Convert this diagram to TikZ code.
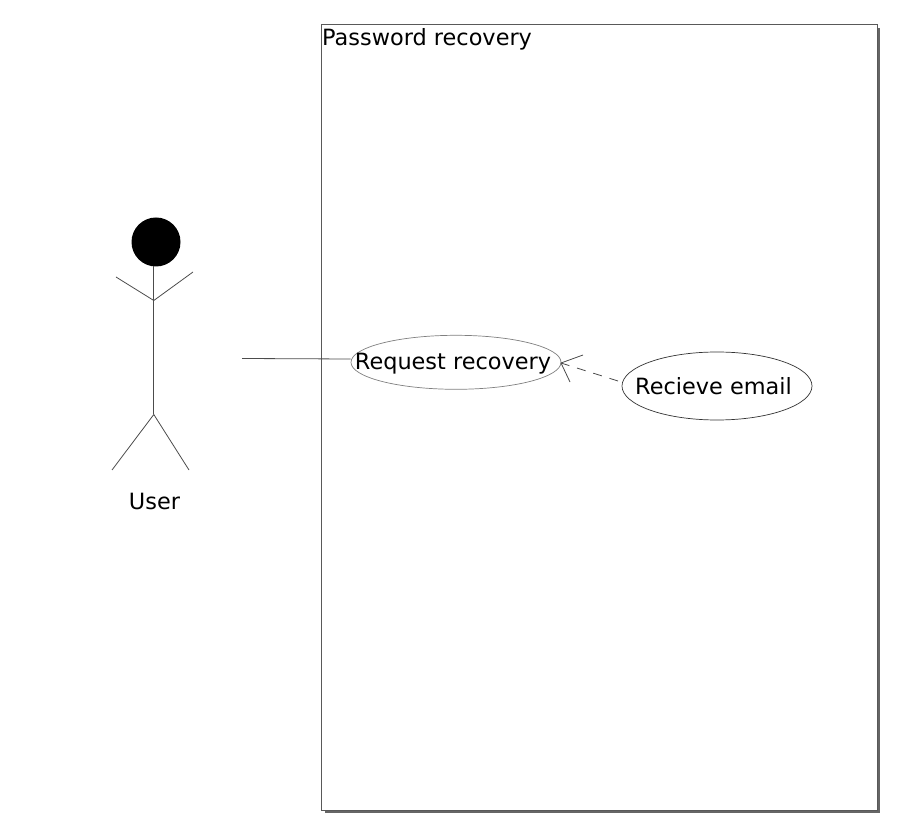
\documentclass[tikz,border=0pt]{standalone}
\usepackage{fontspec}
\setmainfont{DejaVu Sans}
\usetikzlibrary{shapes.geometric}
\tikzset{usecase/.style = {draw, fill=white, ellipse, inner sep=0pt},
         label/.style = {inner sep=0pt, font=\fontsize{22.4}{26}\selectfont},
         thin line/.style = {draw, line width=0.8pt, color=black!70}}

\begin{document}
\begin{tikzpicture}[x=1pt,y=-1pt]
        \useasboundingbox(0,0)rectangle(898,834);

        \node[fill=black!60,minimum width=555.5pt,minimum height=785.5pt,inner sep=0pt,outer sep=0pt,anchor=north west](shadow)at(324.5,27.8){};
        \node[draw=black!65,fill=white,line width=0.9pt,minimum width=555.5pt,minimum height=785.5pt,inner sep=0pt,outer sep=0pt,anchor=north west](system)at(321.5,24.8){};
        \node[label,anchor=north west](title)at(322,28.5){Password recovery};

        \node[circle,fill=black,minimum size=49pt,inner sep=0pt](head)at(156,242){};
        \coordinate(neck)at(153.8,266);
        \coordinate(chest)at(153.8,300.5);
        \coordinate(hip)at(153.8,414.5);
        \coordinate(handl)at(116,277);
        \coordinate(handr)at(193,272);
        \coordinate(footl)at(112,470);
        \coordinate(footr)at(189,470);
        \draw[thin line](neck)--(hip);
        \draw[thin line](handl)--(chest)--(handr);
        \draw[thin line](footl)--(hip)--(footr);
        \node[label](user)at(154.5,501){User};

        \node[usecase,draw=black!50,line width=0.7pt,minimum width=210pt,minimum height=54pt](request)at(456,362.3){};
        \node[label](requesttext)at(453,364){Request recovery};
        \node[usecase,draw=black!80,line width=0.7pt,minimum width=190pt,minimum height=68pt](receive)at(717,386){};
        \node[label](receivetext)at(713.5,386.5){Recieve email};

        \coordinate(actorend)at(242,358.5);
        \draw[thin line](actorend)--(request.west|-0,359);

        \coordinate(tip)at(561,363);
        \coordinate(barbu)at(583,355);
        \coordinate(barbd)at(570,382);
        \coordinate(dashend)at(618,381);
        \draw[thin line,dash pattern=on 9pt off 8pt](dashend)--(tip);
        \draw[thin line](barbu)--(tip)--(barbd);
\end{tikzpicture}
\end{document}
